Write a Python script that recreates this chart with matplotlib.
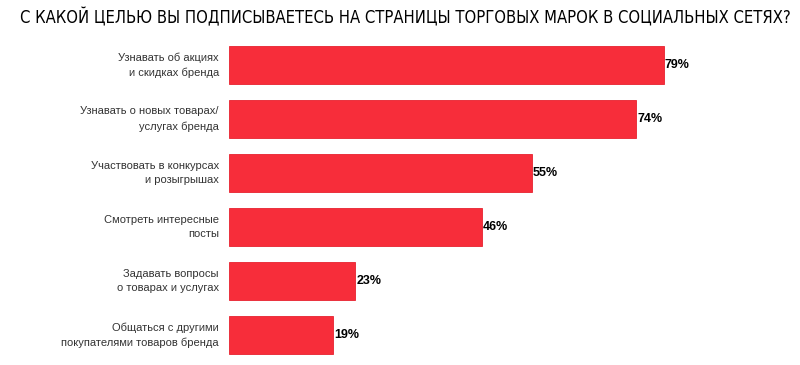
import matplotlib
matplotlib.use("Agg")
from matplotlib import pyplot as plt
from matplotlib import font_manager
from matplotlib.font_manager import FontProperties
from matplotlib.ft2font import FT2Font

# данные
categories = ["Узнавать об акциях\nи скидках бренда",
              "Узнавать о новых товарах/\nуслугах бренда",
              "Участвовать в конкурсах\nи розыгрышах",
              "Смотреть интересные\nпосты",
              "Задавать вопросы\nо товарах и услугах",
              "Общаться с другими\nпокупателями товаров бренда"]
values = [79, 74, 55, 46, 23, 19]
title = "С КАКОЙ ЦЕЛЬЮ ВЫ ПОДПИСЫВАЕТЕСЬ НА СТРАНИЦЫ ТОРГОВЫХ МАРОК В СОЦИАЛЬНЫХ СЕТЯХ?"

# шрифты по файлам
fonts = font_manager.fontManager.ttflist
def has_cyr(path):
    try:
        ft = FT2Font(path)
        return all(ft.get_char_index(ord(ch)) for ch in "ЖЦЮЯ")
    except Exception:
        return False

def find(test, default):
    for f in fonts:
        n = f.fname.split("/")[-1].lower()
        if test(n) and has_cyr(f.fname):
            return FontProperties(fname=f.fname)
    return FontProperties(family=default)

fp_reg = find(lambda n: n == "liberationsans-regular.ttf", "Liberation Sans")
fp_bold = find(lambda n: n == "liberationsans-bold.ttf", "Liberation Sans")
fp_narrow = find(lambda n: ("narrow" in n or "condensed" in n) and "bold" not in n
                 and "italic" not in n and "oblique" not in n and "mono" not in n
                 and "serif" not in n, None)
if fp_narrow.get_file() is None:
    fp_narrow = fp_reg

fig = plt.figure(figsize=(8, 3.65), dpi=100)
ax = fig.add_axes([0.286, 0.008, 0.6885, 0.888])

pos = list(range(len(values)))
ax.barh(pos, values, height=0.70, color="#f72d3a", edgecolor="#e8222f", linewidth=0.6)
ax.set_xlim(0, 100)
ax.set_ylim(len(values) - 0.5, -0.5)

# подписи значений
for p, v in zip(pos, values):
    ax.text(v + 0.15, p, f"{v}%", va="center", ha="left", fontproperties=fp_bold,
            fontsize=9, color="black")

# подписи категорий
for p, c in zip(pos, categories):
    ax.text(-1.8, p, c, va="center", ha="right", fontproperties=fp_reg,
            fontsize=8, color="#333333", linespacing=1.55)

ax.axis("off")

t = fig.text(0.5063, 0.95, title, ha="center", va="center", fontproperties=fp_narrow,
             fontsize=13, color="black")
fig.canvas.draw()
w = t.get_window_extent().width
t.set_fontsize(13 * 768 / w)

fig.savefig("out.png", dpi=100)
